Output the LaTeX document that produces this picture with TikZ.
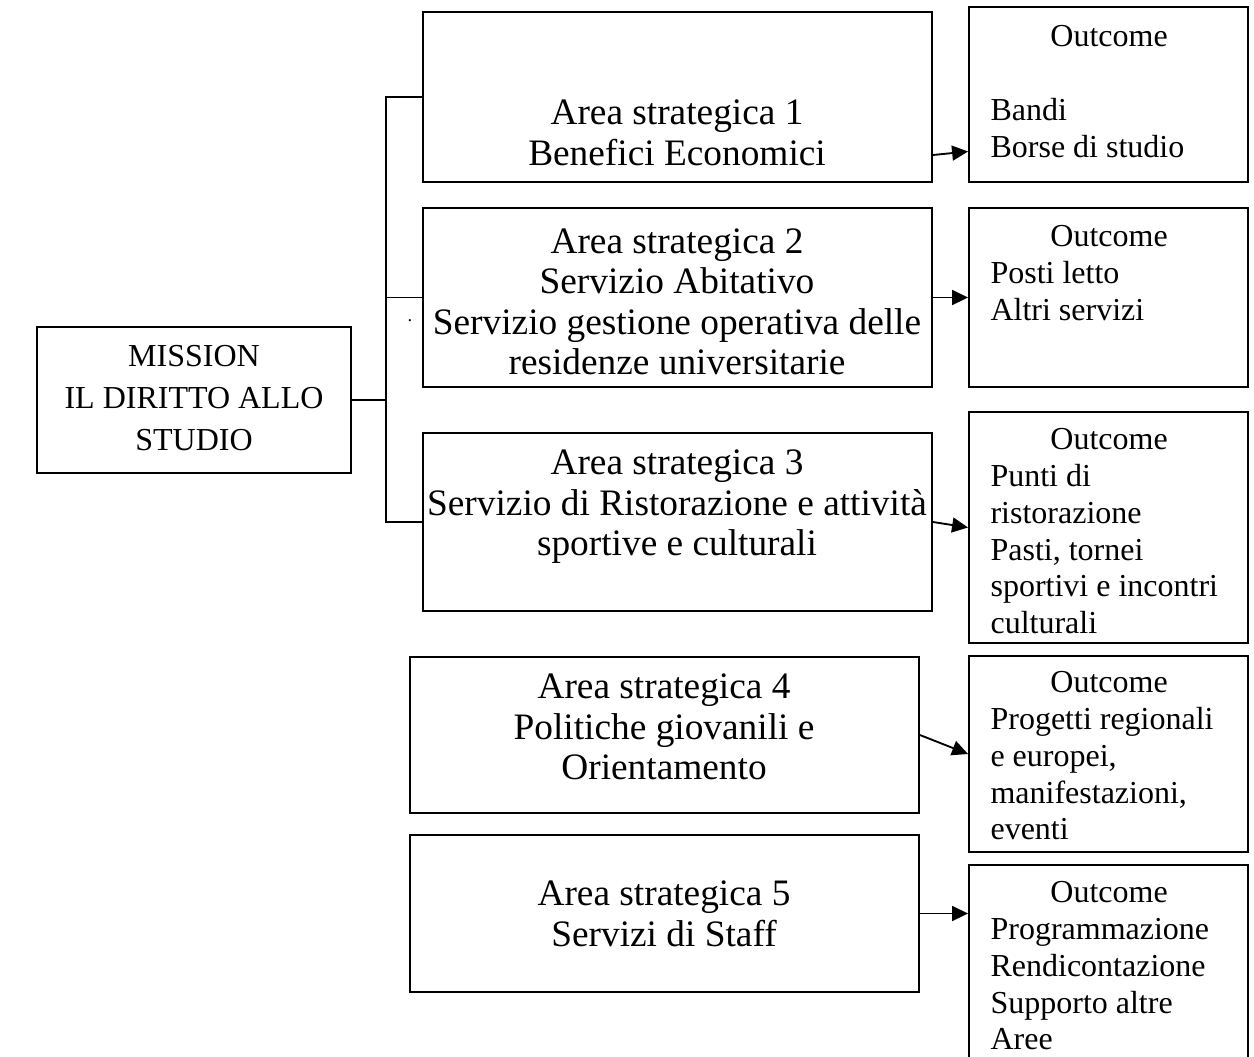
\documentclass[tikz,border=0pt]{standalone}
\usepackage{fontspec}
\setmainfont{Liberation Serif}
\usetikzlibrary{arrows.meta,positioning,fit,calc}

\newcommand{\outhead}{\makebox[88.9pt]{Outcome}}

\begin{document}
\begin{tikzpicture}[x=0.375pt,y=-0.375pt,
every node/.style={font=\fontsize{14}{15.2}\selectfont},
box/.style={draw,line width=0.7pt,inner sep=0pt},
txt/.style={align=center,inner sep=0pt},
otxt/.style={align=left,inner sep=0pt,anchor=north west,font=\fontsize{12}{13.8}\selectfont},
con/.style={line width=0.7pt},
arr/.style={-{Triangle[length=6pt,width=5.6pt]},line width=0.7pt}
]
\useasboundingbox (0,0) rectangle (1254,1056);

% boxes
\node[box,fit={(37,327)(351,473)}]   (mission) {};
\node[box,fit={(423,12)(932,182)}]   (area1) {};
\node[box,fit={(423,208)(932,387)}]  (area2) {};
\node[box,fit={(423,433)(932,611)}]  (area3) {};
\node[box,fit={(410,657)(919,813)}]  (area4) {};
\node[box,fit={(410,835)(919,992)}]  (area5) {};
\node[box,fit={(969,7)(1248,182)}]   (out1) {};
\node[box,fit={(969,208)(1248,387)}] (out2) {};
\node[box,fit={(969,412)(1248,643)}] (out3) {};
\node[box,fit={(969,656)(1248,852)}] (out4) {};
\node[box,fit={(969,865)(1248,1075)}] (out5) {};

% texts
\node[txt,font=\fontsize{12}{15.75}\selectfont] (missiontxt) at (194,398) {MISSION\\IL DIRITTO ALLO\\STUDIO};
\node[txt] (area1txt) at (677,133) {Area strategica 1\\Benefici Economici};
\node[txt] (area2txt) at (677,302) {Area strategica 2\\Servizio Abitativo\\Servizio gestione operativa delle\\residenze universitarie};
\node[txt] (area3txt) at (677,507) {Area strategica 3\\Servizio di Ristorazione e attività\\sportive e culturali};
\node[txt] (area4txt) at (664,727) {Area strategica 4\\Politiche giovanili e\\Orientamento};
\node[txt] (area5txt) at (664,914) {Area strategica 5\\Servizi di Staff};

\node[otxt] (out1txt) at (990,25)  {\outhead\\\mbox{}\\Bandi\\Borse di studio};
\node[otxt] (out2txt) at (990,225) {\outhead\\Posti letto\\Altri servizi};
\node[otxt] (out3txt) at (990,428) {\outhead\\Punti di\\ristorazione\\Pasti, tornei\\sportivi e incontri\\culturali};
\node[otxt] (out4txt) at (990,671) {\outhead\\Progetti regionali\\e europei,\\manifestazioni,\\eventi};
\node[otxt] (out5txt) at (990,881) {\outhead\\Programmazione\\Rendicontazione\\Supporto altre\\Aree};

\node[inner sep=0pt,font=\fontsize{7}{7}\selectfont] (dot) at (410,321) {.};

% connectors
\coordinate (fork) at (386,400);
\draw[con] (mission) -- (fork);
\draw[con] (fork) |- (area1);
\draw[con] (fork) |- (area2);
\draw[con] (fork) |- (area3);

\draw[arr] ($(area1.east)+(0,58)$) -- ($(out1.west)+(0,57)$);
\draw[arr] (area2) -- (out2);
\draw[arr] (area3.east) -- (out3.west);
\draw[arr] (area4.east) -- (out4.west);
\draw[arr] (area5.east) -- (area5.east -| out5.west);
\end{tikzpicture}
\end{document}
